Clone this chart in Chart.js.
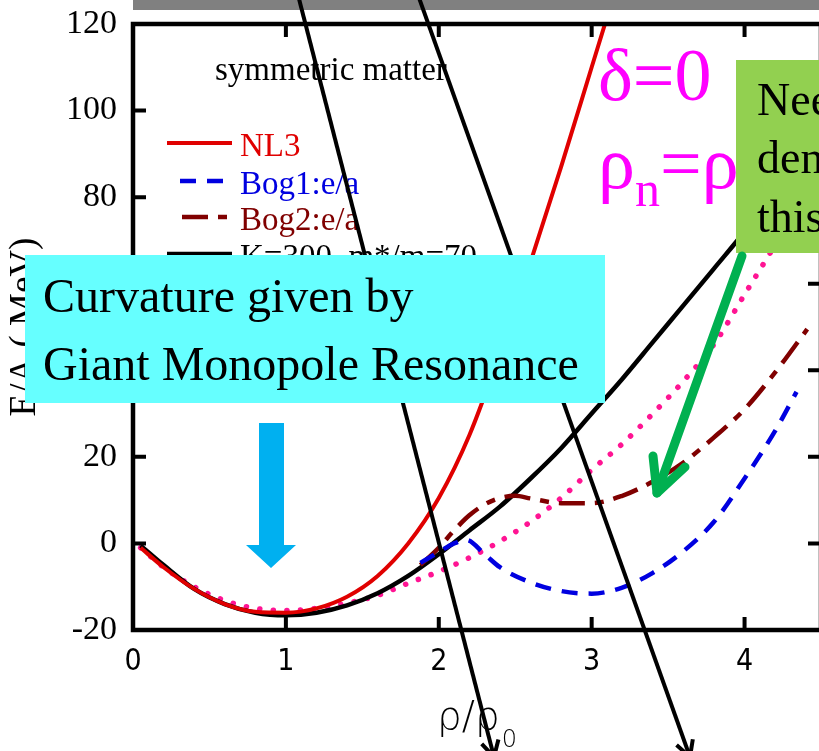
<!DOCTYPE html>
<html><head><meta charset="utf-8">
<script src="https://cdn.jsdelivr.net/npm/chart.js@4/dist/chart.umd.min.js"></script>
<style>
html,body{margin:0;padding:0;overflow:hidden;background:#fff;width:819px;height:751px}
#wrap{position:absolute;left:0;top:0;width:860px;height:751px}
</style>
</head><body><div id="wrap"><canvas id="c" width="860" height="751"></canvas></div>
<script>
// ---- data ----
const xTicks = [0, 1, 2, 3, 4];
const yTicks = [-20, 0, 20, 40, 60, 80, 100, 120];

const rhoNL3 = [0.05,0.2,0.4,0.6,0.8,1.0,1.2,1.4,1.6,1.8,2.0,2.2,2.4,2.6,2.8,3.0,3.2];
const eNL3   = [-1,-5.5,-10.5,-14,-15.8,-16,-15,-12.3,-7.5,0,10.5,25,44,65,87,110,133];

const rhoBog1 = [1.88,2.0,2.1,2.18,2.3,2.4,2.6,2.8,3.0,3.2,3.4,3.6,3.8,4.0,4.2,4.34];
const eBog1   = [-4.5,-2,0,0.8,-2.5,-5.5,-9,-11,-11.6,-10.2,-6.8,-1.8,5,15,26,35];

const rhoBog2 = [1.88,2.0,2.1,2.2,2.3,2.4,2.5,2.6,2.8,3.0,3.2,3.4,3.6,3.8,4.0,4.2,4.41];
const eBog2   = [-5,-1,3,6.5,9,10.5,11,10.4,9.3,9.3,11,14.3,18.7,24.5,31,39.5,49.5];

const rhoK300 = [0.05,0.2,0.4,0.6,0.8,1.0,1.2,1.4,1.6,1.8,2.0,2.2,2.4,2.6,2.8,3.0,3.2,3.4,3.6,3.8,4.0,4.2,4.4,4.5];
const eK300   = [-0.5,-5,-10.5,-14,-16,-16.6,-16,-14.3,-11.5,-7.5,-2.5,3,8.5,15,22,30,38,46.5,55,63.5,72,81,90,95];

const rhoDot = [0.05,0.2,0.4,0.6,0.8,1.0,1.2,1.4,1.6,1.8,2.0,2.2,2.4,2.6,2.8,3.0,3.2,3.4,3.6,3.8,4.0,4.2,4.4];
const eDot   = [-1,-5.5,-10,-13.2,-15,-15.5,-15,-13.8,-12,-9.2,-6.5,-3.3,0.5,5,10.5,17,23,30,37.5,46,57.5,69,81];

const legendLabels = ['NL3', 'Bog1:e/a', 'Bog2:e/a', 'K=300, m*/m=70'];

function pts(xs, ys){ return xs.map((x,i)=>({x:x, y:ys[i]})); }

const SERIF = "'Liberation Serif','Times New Roman',serif";
const SANS = "'DejaVu Sans',sans-serif";

const overlay = {
  id: 'overlay',
  afterDraw(chart){
    const ctx = chart.ctx, a = chart.chartArea, xs = chart.scales.x, ys = chart.scales.y;
    ctx.save();
    // gray bar at top
    ctx.fillStyle = '#808080';
    ctx.fillRect(a.left, 0, 900 - a.left, 10);
    // frame
    ctx.strokeStyle = '#000'; ctx.lineWidth = 4.5; ctx.setLineDash([]);
    ctx.strokeRect(a.left, a.top, a.right - a.left, a.bottom - a.top);
    // inward ticks
    const TL = 13;
    ctx.lineWidth = 4; ctx.beginPath();
    xTicks.forEach(v => { const p = xs.getPixelForValue(v);
      ctx.moveTo(p, a.bottom); ctx.lineTo(p, a.bottom - TL);
      ctx.moveTo(p, a.top); ctx.lineTo(p, a.top + TL); });
    yTicks.forEach(v => { const p = ys.getPixelForValue(v);
      ctx.moveTo(a.left, p); ctx.lineTo(a.left + TL, p);
      ctx.moveTo(a.right, p); ctx.lineTo(a.right - TL, p); });
    ctx.stroke();

    // "symmetric matter"
    ctx.fillStyle = '#000'; ctx.font = '33px ' + SERIF; ctx.textBaseline = 'alphabetic'; ctx.textAlign = 'left';
    ctx.fillText('symmetric matter', 215, 80);

    // legend
    const rows = [143, 181, 217, 254];
    const starts = [167, 180, 182, 167];
    const textCol = ['#e00000', '#0000e0', '#800000', '#000'];
    legendLabels.forEach((lab, i) => {
      const ds = chart.data.datasets[i];
      ctx.strokeStyle = ds.borderColor; ctx.lineWidth = ds.borderWidth;
      ctx.setLineDash(ds.borderDash || []); ctx.lineCap = 'butt';
      ctx.beginPath(); ctx.moveTo(starts[i], rows[i]); ctx.lineTo(232, rows[i]); ctx.stroke();
      ctx.setLineDash([]);
      ctx.fillStyle = textCol[i]; ctx.font = '33px ' + SERIF;
      ctx.fillText(lab, 240, rows[i] + 13);
    });

    // delta = 0, rho_n = rho_p
    ctx.fillStyle = '#ff00ff';
    ctx.font = '74px ' + SERIF;
    ctx.fillText('\u03b4=0', 598, 100);
    let x0 = 598;
    ctx.fillText('\u03c1', x0, 188); x0 += ctx.measureText('\u03c1').width;
    ctx.font = '50px ' + SERIF;
    ctx.fillText('n', x0, 206); x0 += ctx.measureText('n').width;
    ctx.font = '74px ' + SERIF;
    ctx.fillText('=\u03c1', x0, 188); x0 += ctx.measureText('=\u03c1').width;
    ctx.font = '50px ' + SERIF;
    ctx.fillText('p', x0, 206);

    // x axis title rho/rho0
    ctx.fillStyle = '#000';
    ctx.font = '200 39px ' + SANS;
    ctx.fillText('\u03c1/\u03c1', 437, 729);
    const w = ctx.measureText('\u03c1/\u03c1').width;
    ctx.font = '200 24px ' + SANS;
    ctx.fillText('0', 437 + w + 2, 747);

    // two black arrows
    function arrow(x1, y1, x2, y2){
      ctx.strokeStyle = '#000'; ctx.lineWidth = 4; ctx.lineCap = 'butt';
      ctx.beginPath(); ctx.moveTo(x1, y1); ctx.lineTo(x2, y2); ctx.stroke();
      const ang = Math.atan2(y2 - y1, x2 - x1), L = 18, s = 0.5;
      ctx.beginPath();
      ctx.moveTo(x2 - L*Math.cos(ang - s), y2 - L*Math.sin(ang - s));
      ctx.lineTo(x2, y2);
      ctx.lineTo(x2 - L*Math.cos(ang + s), y2 - L*Math.sin(ang + s));
      ctx.stroke();
    }
    arrow(298, -5, 494, 757);
    arrow(418, -5, 690, 757);

    // cyan box
    ctx.fillStyle = '#66ffff';
    ctx.fillRect(25, 255, 580, 148);
    ctx.fillStyle = '#000'; ctx.font = '48px ' + SERIF;
    ctx.fillText('Curvature given by', 43, 312);
    ctx.fillText('Giant Monopole Resonance', 43, 380);

    // blue arrow
    ctx.fillStyle = '#00b0f0';
    ctx.beginPath();
    ctx.moveTo(259, 423); ctx.lineTo(284, 423); ctx.lineTo(284, 545); ctx.lineTo(296, 545);
    ctx.lineTo(271, 568); ctx.lineTo(246, 545); ctx.lineTo(259, 545); ctx.closePath(); ctx.fill();

    // green box
    ctx.fillStyle = '#92d050';
    ctx.fillRect(736, 60, 200, 193);
    ctx.fillStyle = '#000'; ctx.font = '46px ' + SERIF;
    ctx.fillText('Need to know', 757, 115);
    ctx.fillText('density dependence', 757, 173);
    ctx.fillText('this curve', 757, 232);

    // green arrow
    ctx.strokeStyle = '#00b050'; ctx.lineWidth = 9; ctx.lineCap = 'round'; ctx.lineJoin = 'round';
    ctx.beginPath(); ctx.moveTo(742, 256); ctx.lineTo(657, 493); ctx.stroke();
    ctx.beginPath(); ctx.moveTo(653, 456); ctx.lineTo(657, 493); ctx.lineTo(685, 467); ctx.stroke();
    ctx.restore();
  }
};

new Chart(document.getElementById('c'), {
  type: 'line',
  data: { datasets: [
    { label: legendLabels[0], data: pts(rhoNL3, eNL3), borderColor: '#e00000', borderWidth: 4 },
    { label: legendLabels[1], data: pts(rhoBog1, eBog1), borderColor: '#0000e0', borderWidth: 4.5, borderDash: [16, 11] },
    { label: legendLabels[2], data: pts(rhoBog2, eBog2), borderColor: '#800000', borderWidth: 4.5, borderDash: [26, 10, 9, 10] },
    { label: legendLabels[3], data: pts(rhoK300, eK300), borderColor: '#000000', borderWidth: 4.5 },
    { label: '', data: pts(rhoDot, eDot), borderColor: '#ff1493', borderWidth: 5.5, borderDash: [0.1, 13.5], borderCapStyle: 'round' }
  ]},
  options: {
    responsive: false, animation: false, devicePixelRatio: 1,
    layout: { padding: { top: 24, right: 39, left: 0, bottom: 0 } },
    plugins: { legend: { display: false }, tooltip: { enabled: false } },
    elements: { point: { radius: 0 }, line: { cubicInterpolationMode: 'monotone', fill: false } },
    scales: {
      x: { type: 'linear', min: 0, max: 4.5,
        afterBuildTicks(s){ s.ticks = xTicks.map(v => ({ value: v })); },
        afterFit(s){ s.height = 121; s.paddingLeft = 0; s.paddingRight = 0; },
        grid: { display: false, drawTicks: false }, border: { display: false },
        ticks: { color: '#000', padding: 14, maxRotation: 0, autoSkip: false,
          font: { family: "'Liberation Sans Narrow','DejaVu Sans Condensed',sans-serif", size: 30 } } },
      y: { type: 'linear', min: -20, max: 120,
        afterBuildTicks(s){ s.ticks = yTicks.map(v => ({ value: v })); },
        afterFit(s){ s.width = 133; s.paddingTop = 0; s.paddingBottom = 0; },
        grid: { display: false, drawTicks: false }, border: { display: false },
        ticks: { color: '#000', padding: 16, autoSkip: false, font: { family: SERIF, size: 34 } },
        title: { display: true, text: 'E/A ( MeV)', color: '#000', padding: { top: 3, bottom: 0 },
          font: { family: SERIF, size: 37 } } }
    }
  },
  plugins: [overlay]
});
</script>
</body></html>
